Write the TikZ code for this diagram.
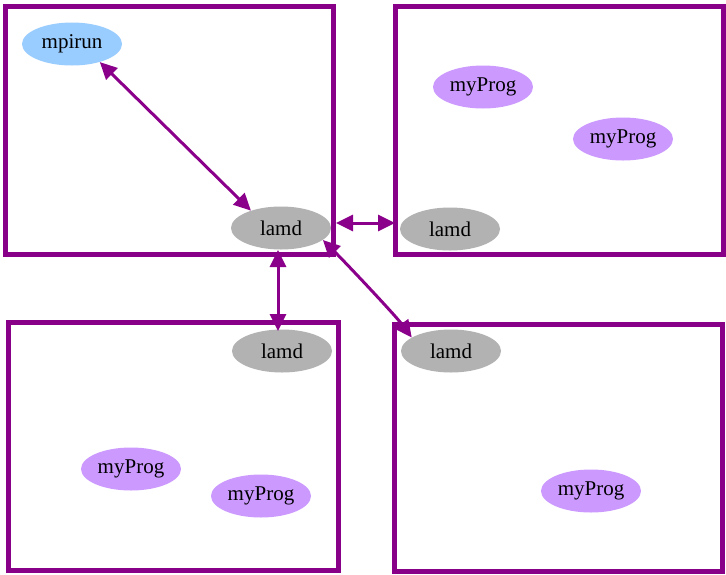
\documentclass[tikz,border=0pt]{standalone}
\usepackage{fontspec}
\setmainfont{Liberation Serif}
\usetikzlibrary{arrows.meta,shapes.geometric}
\definecolor{clus}{HTML}{880088}
\definecolor{edgec}{HTML}{8B008B}
\definecolor{blue1}{HTML}{99CCFF}
\definecolor{gray1}{HTML}{B2B2B2}
\definecolor{prog}{HTML}{CC99FF}
\begin{document}
\begin{tikzpicture}[x=1pt,y=-1pt,
  cluster/.style={draw=clus,line width=5pt,rectangle,inner sep=0pt,outer sep=0pt},
  proc/.style={ellipse,inner sep=0pt,minimum width=100pt,minimum height=43pt,font=\fontsize{21}{24}\selectfont},
  runnode/.style={proc,fill=blue1},
  lamnode/.style={proc,fill=gray1},
  prognode/.style={proc,fill=prog},
  edge/.style={draw=edgec,line width=3pt,{Triangle[length=17pt,width=16pt]}-{Triangle[length=17pt,width=16pt]}}]
\useasboundingbox[fill=white] (0,0) rectangle (726,574);
% clusters
\node[cluster,minimum width=328pt,minimum height=248pt] (c1) at (169,130) {};
\node[cluster,minimum width=328pt,minimum height=248pt] (c2) at (559,130) {};
\node[cluster,minimum width=330pt,minimum height=248pt] (c3) at (173,446) {};
\node[cluster,minimum width=328pt,minimum height=247pt] (c4) at (558,447.5) {};
% nodes
\node[runnode] (mpirun) at (72,44) {mpirun};
\node[lamnode] (lamd1) at (281,228) {lamd};
\node[lamnode] (lamd2) at (450,229) {lamd};
\node[prognode] (p1) at (483,87) {myProg};
\node[prognode] (p2) at (623,139) {myProg};
\node[lamnode] (lamd3) at (282,351) {lamd};
\node[prognode] (p3) at (131,469) {myProg};
\node[prognode] (p4) at (261,496) {myProg};
\node[lamnode] (lamd4) at (451,351) {lamd};
\node[prognode] (p5) at (591,491) {myProg};
% connector ends on cluster borders
\coordinate (h1) at ([xshift=3pt,yshift=5pt]c1.east |- lamd1);
\coordinate (h2) at ([yshift=5pt]c2.west |- lamd1);
\coordinate (v1) at ([xshift=-3pt,yshift=4pt]lamd1 |- c1.south);
\coordinate (v3) at ([xshift=-3pt,yshift=-9pt]lamd1 |- c3.north);
% connectors
\draw[edge] (mpirun.-33) -- (lamd1.150);
\draw[edge] (h1) -- (h2);
\draw[edge] (v1) -- (v3);
\draw[edge] (lamd1.-16) .. controls (345,262) and (395,315) .. (lamd4.161);
\end{tikzpicture}
\end{document}
